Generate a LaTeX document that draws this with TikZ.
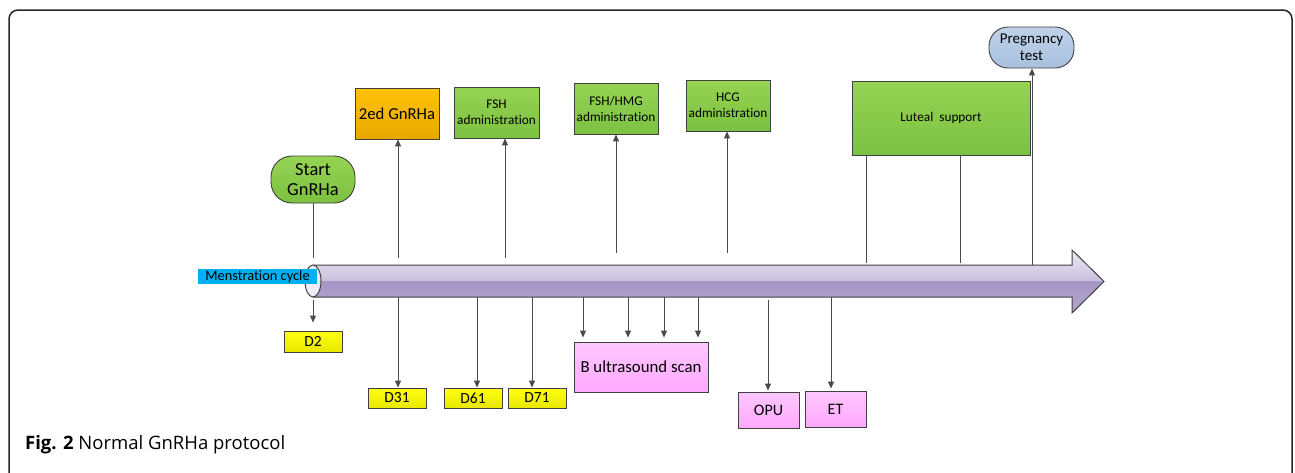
\documentclass[tikz,border=0pt]{standalone}
\usepackage{fontspec}
\setmainfont{Carlito}[Ligatures={NoCommon}]
\newfontfamily\capfont{Open Sans}
\usetikzlibrary{arrows.meta}
\definecolor{bord}{HTML}{404040}
\definecolor{lnc}{HTML}{4A4A4A}
\definecolor{grT}{HTML}{96D353}
\definecolor{grB}{HTML}{7CC142}
\definecolor{orT}{HTML}{FFC20A}
\definecolor{orB}{HTML}{E9A800}
\definecolor{yeT}{HTML}{FFFF10}
\definecolor{yeB}{HTML}{E8E800}
\definecolor{piT}{HTML}{FFC8FF}
\definecolor{piB}{HTML}{FFA8FF}
\definecolor{blT}{HTML}{BED1E8}
\definecolor{blB}{HTML}{A9C1DE}
\definecolor{cyanlab}{HTML}{00B0F0}
\definecolor{tuT}{HTML}{EEECF5}
\definecolor{tuM}{HTML}{C8BFDD}
\definecolor{tuD}{HTML}{A696C6}
\definecolor{tuD2}{HTML}{B3A5CF}
\tikzset{
  box/.style={draw=bord, line width=0.9pt, inner sep=1pt, align=center, font=\fontsize{13.3}{16}\selectfont},
  green/.style={box, top color=grT, bottom color=grB},
  orangebox/.style={box, top color=orT, bottom color=orB},
  yellowbox/.style={box, top color=yeT, bottom color=yeB, minimum width=58pt, minimum height=20pt, font=\fontsize{15.5}{17}\selectfont},
  pinkbox/.style={box, top color=piT, bottom color=piB},
  arr/.style={draw=lnc, line width=1pt, -{Triangle[length=7pt,width=6pt]}},
  plain/.style={draw=lnc, line width=1pt},
}
\begin{document}
\begin{tikzpicture}[x=1pt,y=-1pt]
\useasboundingbox (0,0) rectangle (1295,472);
% frame
\draw[line width=1.5pt, rounded corners=9pt, black!85] (9,480) -- (9,10) -- (1292,10) -- (1292,480);

% tube arrow
\begin{scope}
\clip (313,265) -- (1072,265) -- (1072,250) -- (1104,281.5) -- (1072,313) -- (1072,297) -- (313,297) -- cycle;
\shade[top color=tuT, bottom color=tuM] (300,249) rectangle (1110,281.5);
\shade[top color=tuD, bottom color=tuD2] (300,281.5) rectangle (1110,314);
\end{scope}
\draw[line width=1pt, bord] (313,265) -- (1072,265) -- (1072,250) -- (1104,281.5) -- (1072,313) -- (1072,297) -- (313,297);
\draw[line width=1pt, bord, fill=tuT] (313,281) ellipse [x radius=8pt, y radius=16pt];
\node[fill=cyanlab, minimum width=119pt, minimum height=15pt, inner sep=0pt, font=\fontsize{14.4}{15}\selectfont] (mens) at (257.5,276.5) {Menstration cycle};

% tube coordinates
\coordinate (c0) at (313,258);
\coordinate (a1) at (398,258);
\coordinate (a2) at (505,258);
\coordinate (a3) at (616,253);
\coordinate (a4) at (727,253);
\coordinate (l1) at (866,263);
\coordinate (l2) at (960,263);
\coordinate (pg) at (1032,265);
\coordinate (b0) at (313,300);
\coordinate (b1) at (398,297);
\coordinate (b2) at (477,297);
\coordinate (b3) at (532,297);
\coordinate (u1) at (583,297);
\coordinate (u2) at (628,297);
\coordinate (u3) at (664,297);
\coordinate (u4) at (698,297);
\coordinate (o1) at (768,300);
\coordinate (e1) at (831,297);

% top nodes
\node[green, rounded corners=21pt, minimum width=84pt, minimum height=47pt, font=\fontsize{18.4}{20}\selectfont] (start) at (313,179.5) {Start\\GnRHa};
\node[orangebox, minimum width=84pt, minimum height=51pt, font=\fontsize{16.7}{20}\selectfont] (gn2) at (397,113.5) {2ed GnRHa};
\node[green, minimum width=85pt, minimum height=51pt] (fsh) at (496.5,112.5) {FSH\\administration};
\node[green, minimum width=84pt, minimum height=51pt] (fshhmg) at (616,108.5) {FSH/HMG\\administration};
\node[green, minimum width=84pt, minimum height=51pt] (hcg) at (728,105.5) {HCG\\administration};
\node[green, minimum width=178pt, minimum height=74pt] (luteal) at (941,118) {Luteal\ \ support};
\node[box, top color=blT, bottom color=blB, rounded corners=19pt, minimum width=85pt, minimum height=41pt, font=\fontsize{15}{17}\selectfont] (preg) at (1031.5,47.5) {Pregnancy\\test};

% bottom nodes
\node[yellowbox, minimum height=21pt] (d2) at (313,341.5) {D2};
\node[yellowbox] (d31) at (397,398) {D31};
\node[yellowbox] (d61) at (473,398) {D61};
\node[yellowbox] (d71) at (537,398) {D71};
\node[pinkbox, minimum width=134pt, minimum height=50pt, font=\fontsize{16.8}{20}\selectfont] (bus) at (641,367) {B ultrasound scan};
\node[pinkbox, minimum width=61pt, minimum height=36pt, font=\fontsize{16}{18}\selectfont] (opu) at (768.5,410) {OPU};
\node[pinkbox, minimum width=61pt, minimum height=36pt, font=\fontsize{16}{18}\selectfont] (et) at (835.5,409) {ET};

% connectors up
\draw[plain] (start) -- (c0);
\draw[arr] (a1) -- (a1 |- gn2.south);
\draw[arr] (a2) -- (a2 |- fsh.south);
\draw[arr] (a3) -- (a3 |- fshhmg.south);
\draw[arr] (a4) -- (a4 |- hcg.south);
\draw[plain] (l1 |- luteal.south) -- (l1);
\draw[plain] (l2 |- luteal.south) -- (l2);
\draw[arr] (pg) -- (pg |- preg.south);

% connectors down
\draw[arr, shorten >=8pt] (b0) -- (d2);
\draw[arr] (b1) -- (b1 |- d31.north);
\draw[arr] (b2) -- (b2 |- d61.north);
\draw[arr] (b3) -- (b3 |- d71.north);
\draw[arr, shorten >=4pt] (u1) -- (u1 |- bus.north);
\draw[arr, shorten >=4pt] (u2) -- (u2 |- bus.north);
\draw[arr, shorten >=4pt] (u3) -- (u3 |- bus.north);
\draw[arr, shorten >=4pt] (u4) -- (u4 |- bus.north);
\draw[arr, shorten >=1pt] (o1) -- (o1 |- opu.north);
\draw[arr, shorten >=2pt] (e1) -- (e1 |- et.north);

% caption
\node[anchor=base west, inner sep=0pt, font=\capfont\fontsize{18.5}{20}\selectfont] (cap) at (25,449) {\textbf{Fig. 2} Normal GnRHa protocol};
\end{tikzpicture}
\end{document}
